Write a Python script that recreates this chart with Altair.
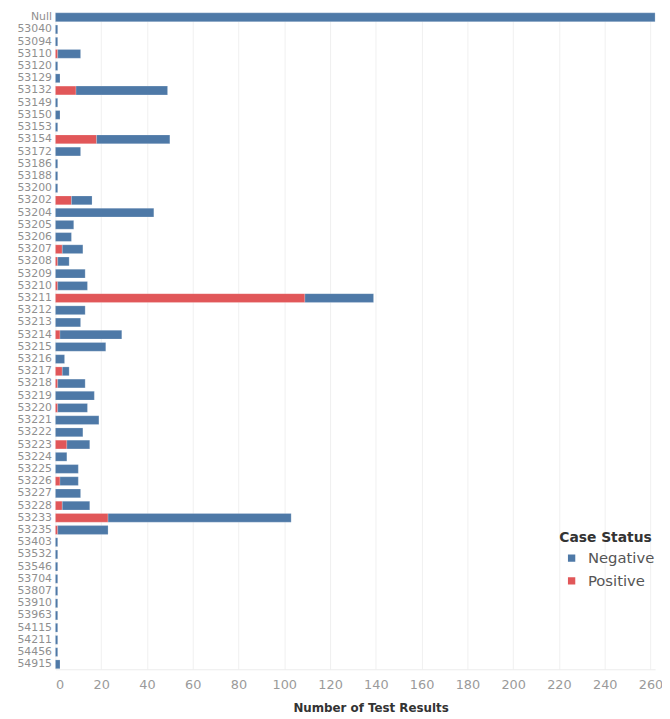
import altair as alt
import pandas as pd

zips = ["Null", "53040", "53094", "53110", "53120", "53129", "53132", "53149", "53150",
        "53153", "53154", "53172", "53186", "53188", "53200", "53202", "53204", "53205",
        "53206", "53207", "53208", "53209", "53210", "53211", "53212", "53213", "53214",
        "53215", "53216", "53217", "53218", "53219", "53220", "53221", "53222", "53223",
        "53224", "53225", "53226", "53227", "53228", "53233", "53235", "53403", "53532",
        "53546", "53704", "53807", "53910", "53963", "54115", "54211", "54456", "54915"]

negative = [262, 1, 1, 10, 1, 2, 40, 1, 2,
            1, 32, 11, 1, 1, 1, 9, 43, 8,
            7, 9, 5, 13, 13, 30, 13, 11, 27,
            22, 4, 3, 12, 17, 13, 19, 12, 10,
            5, 10, 8, 11, 12, 80, 22, 1, 1,
            1, 1, 1, 1, 1, 1, 1, 1, 2]

positive = [0, 0, 0, 1, 0, 0, 9, 0, 0,
            0, 18, 0, 0, 0, 0, 7, 0, 0,
            0, 3, 1, 0, 1, 109, 0, 0, 2,
            0, 0, 3, 1, 0, 1, 0, 0, 5,
            0, 0, 2, 0, 3, 23, 1, 0, 0,
            0, 0, 0, 0, 0, 0, 0, 0, 0]

statuses = ["Negative", "Positive"]
colors = ["#4e79a7", "#e15759"]
x_ticks = list(range(0, 261, 20))

rows = []
for z, n, p in zip(zips, negative, positive):
    if p > 0:
        rows.append({"zip": z, "status": "Positive", "count": p, "ord": 0})
    if n > 0:
        rows.append({"zip": z, "status": "Negative", "count": n, "ord": 1})
df = pd.DataFrame(rows)

chart = alt.Chart(df).mark_bar(stroke="#ffffff", strokeOpacity=0.35, strokeWidth=0.6).encode(
    y=alt.Y("zip:N", sort=zips, title=None,
            scale=alt.Scale(paddingInner=0.28, paddingOuter=0.045),
            axis=alt.Axis(labelFont="DejaVu Sans", labelFontSize=11, labelColor="#8f8f8f",
                          labelPadding=4, ticks=False, domain=False, grid=False)),
    x=alt.X("count:Q", stack="zero", title="Number of Test Results",
            scale=alt.Scale(domain=[0, 262], nice=False),
            axis=alt.Axis(values=x_ticks, labelFont="DejaVu Sans", labelFontSize=13,
                          labelColor="#9a9a9a", labelPadding=9, ticks=False,
                          labelFlush=True, labelFlushOffset=0,
                          domain=True, domainColor="#ececec",
                          grid=True, gridColor="#f0f0f0",
                          titleFont="DejaVu Sans", titleFontSize=12, titleFontWeight="bold",
                          titleColor="#333333", titlePadding=12, titleX=319)),
    color=alt.Color("status:N", title="Case Status",
                    scale=alt.Scale(domain=statuses, range=colors),
                    legend=alt.Legend(orient="none", legendX=510, legendY=525,
                                      symbolType="square", symbolSize=80, symbolOffset=5,
                                      titleFont="DejaVu Sans", titleFontSize=14,
                                      titleFontWeight="bold", titleColor="#333333",
                                      titlePadding=6,
                                      labelFont="DejaVu Sans", labelFontSize=15,
                                      labelColor="#555555", rowPadding=7, labelOffset=9)),
    order=alt.Order("ord:Q", sort="ascending"),
).properties(
    width=607, height=665, autosize="none",
    padding={"left": 48, "top": 0, "right": 7, "bottom": 46},
).configure_view(stroke=None)

chart.save("out.html", embed_options={"renderer": "svg", "actions": False})
